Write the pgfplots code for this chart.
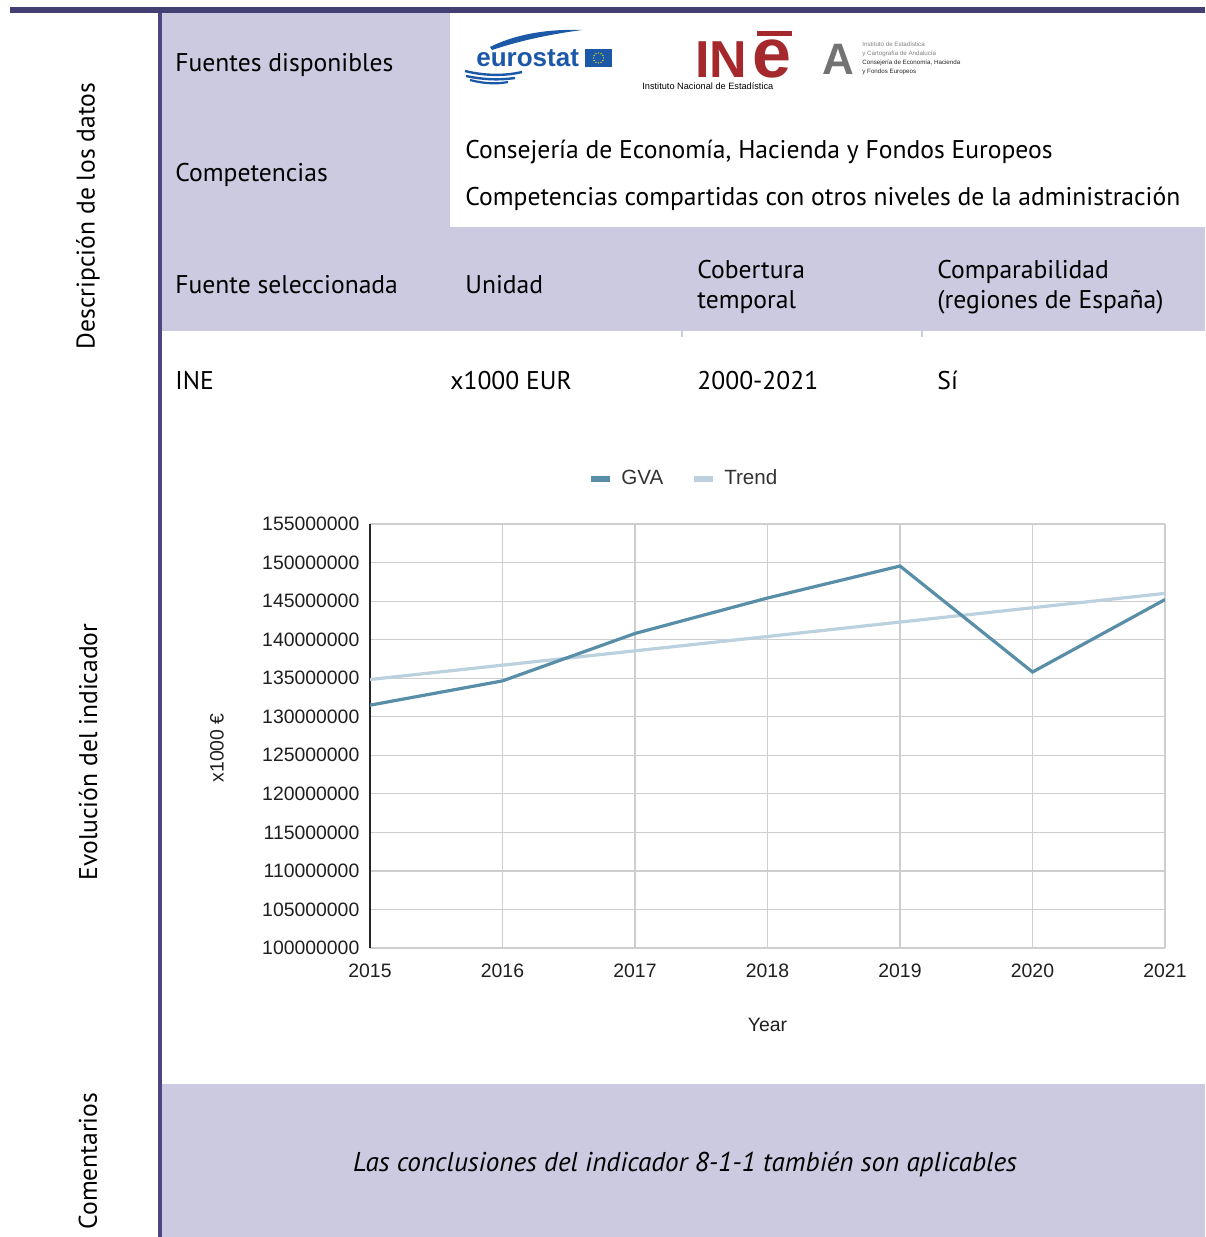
\documentclass[border=0pt]{standalone}
\usepackage{pgfplots}
\pgfplotsset{compat=1.18}
\usepackage{fontspec}
\setmainfont{PT Sans}
\newfontfamily\chartfont{Liberation Sans}
\definecolor{navy}{RGB}{66,64,114}
\definecolor{navyb}{RGB}{74,71,128}
\definecolor{lav}{RGB}{204,202,224}
\definecolor{gva}{RGB}{88,142,168}
\definecolor{trend}{RGB}{187,210,222}
\definecolor{gridc}{RGB}{206,206,206}
\definecolor{eublue}{RGB}{28,88,168}
\definecolor{inered}{RGB}{165,40,45}
\newcommand\tf{\fontsize{12.8}{15}\selectfont}
\newcommand\cf{\chartfont\fontsize{9.7}{11.5}\selectfont}
\newcommand\lf{\chartfont\fontsize{10.3}{12}\selectfont}
\pgfplotstableread{
year gva trend
2015 131500000 134830000
2016 134650000 136690000
2017 140800000 138550000
2018 145400000 140410000
2019 149550000 142280000
2020 135800000 144140000
2021 145200000 146000000
}\datatable
\begin{document}
\begin{tikzpicture}[x=0.5pt,y=-0.5pt]
\path[use as bounding box] (0,0) rectangle (1205,1237);
\fill[white] (0,0) rectangle (1205,1237);
% frame
\fill[navy] (10,7) rectangle (1205,13);
\fill[navyb] (158,13) rectangle (161.5,1237);
\fill[lav] (161.5,13) rectangle (450,227);
\fill[lav] (161.5,227) rectangle (1205,331);
\fill[lav] (161.5,1084) rectangle (1205,1237);
\fill[lav] (681,331) rectangle (683,337);
\fill[lav] (921,331) rectangle (923,337);
% side labels
\node[rotate=90, inner sep=0, font=\tf] at (88,216) {Descripción de los datos};
\node[rotate=90, inner sep=0, font=\tf] at (88,752) {Evolución del indicador};
\node[rotate=90, inner sep=0, font=\tf] at (88,1161) {Comentarios};
% table text
\begin{scope}[every node/.style={anchor=base west, inner sep=0, font=\tf}]
\node at (175,71) {Fuentes disponibles};
\node at (175,181) {Competencias};
\node at (465,158) {Consejería de Economía, Hacienda y Fondos Europeos};
\node at (465,205) {Competencias compartidas con otros niveles de la administración};
\node at (175,293) {Fuente seleccionada};
\node at (465,293) {Unidad};
\node at (697,278) {Cobertura};
\node at (697,308) {temporal};
\node at (937,278) {Comparabilidad};
\node at (937,308) {(regiones de España)};
\node at (175,389) {INE};
\node at (450,389) {x1000 EUR};
\node at (697,389) {2000-2021};
\node at (937,389) {Sí};
\end{scope}
\node[anchor=base, inner sep=0, font=\fontsize{13.6}{15}\selectfont\itshape] at (685,1171) {Las conclusiones del indicador 8-1-1 también son aplicables};
% eurostat logo
\fill[eublue] (490,47) .. controls (520,32) and (555,29) .. (582,30) .. controls (552,34) and (522,40) .. (492,50) -- cycle;
\draw[eublue, line width=1.2pt] (465,71) .. controls (485,76) and (505,76) .. (522,72);
\draw[eublue, line width=1.2pt] (466,76) .. controls (485,80) and (500,80) .. (515,78);
\draw[eublue, line width=1.1pt] (470,80) .. controls (485,84) and (498,84) .. (508,82);
\node[anchor=base west, inner sep=0, text=eublue, font=\chartfont\fontsize{13}{14}\selectfont\bfseries] at (476,66) {eurostat};
\fill[eublue] (585,49) rectangle (612,67);
\foreach \a in {0,30,...,330} \fill[yellow!90!orange] ({598.5+5*cos(\a)},{58+5*sin(\a)}) circle (0.7);
% INE logo
\node[anchor=base west, inner sep=0, text=inered, font=\chartfont\fontsize{26}{28}\selectfont\bfseries] at (695,77) {IN};
\node[anchor=base west, inner sep=0, text=inered, font=\chartfont\fontsize{35}{36}\selectfont\bfseries] at (752,77) {e};
\fill[inered] (757,31) rectangle (792,36);
\node[anchor=base west, inner sep=0, font=\chartfont\fontsize{4.6}{5}\selectfont] at (642,89) {Instituto Nacional de Estadística};
% Andalucia logo
\node[anchor=base west, inner sep=0, text=black!55, font=\chartfont\fontsize{22}{23}\selectfont\bfseries] at (822,74) {A};
\begin{scope}[every node/.style={anchor=base west, inner sep=0, font=\chartfont\fontsize{3.1}{4}\selectfont}]
\node[text=black!50] at (862,46) {Instituto de Estadística};
\node[text=black!50] at (862,55) {y Cartografía de Andalucía};
\node[text=black!85] at (862,64) {Consejería de Economía, Hacienda};
\node[text=black!85] at (862,73) {y Fondos Europeos};
\end{scope}
% chart
\begin{axis}[
  at={(185pt,-474pt)}, anchor=south west,
  scale only axis, width=397.5pt, height=212pt,
  xmin=2015, xmax=2021, ymin=100000000, ymax=155000000,
  xtick={2015,2016,2017,2018,2019,2020,2021},
  ytick={100000000,105000000,110000000,115000000,120000000,125000000,130000000,135000000,140000000,145000000,150000000,155000000},
  scaled y ticks=false,
  /pgf/number format/assume math mode=true,
  yticklabel style={/pgf/number format/fixed, /pgf/number format/precision=0, /pgf/number format/1000 sep={}, xshift=-1.8pt},
  xticklabel style={/pgf/number format/1000 sep={}, yshift=-4.5pt},
  tick label style={font=\cf, text=black!88},
  major tick length=0pt,
  grid=major, grid style={gridc, line width=0.6pt},
  axis lines*=left,
  x axis line style={gridc, line width=0.6pt},
  y axis line style={black!85, line width=0.9pt},
  xlabel={Year}, ylabel={x1000 €},
  label style={font=\cf, text=black!88},
  xlabel style={at={(axis description cs:0.5,-0.1816)}, anchor=center},
  ylabel style={at={(axis description cs:-0.1925,0.472)}, anchor=center},
  legend image code/.code={\path[draw=none, fill=none] (0pt,0pt) -- (13pt,0pt);\draw[#1, line width=3pt] (0pt,0pt) -- (9.5pt,0pt);},
  legend style={draw=none, fill=none, at={(0.396,1)}, anchor=center, yshift=22.5pt,
    font=\lf, text=black!80, /tikz/every even column/.append style={column sep=12pt}},
  legend columns=-1, legend cell align=left,
]
\addlegendimage{gva}\addlegendentry{GVA}
\addlegendimage{trend}\addlegendentry{Trend}
\addplot[trend, line width=1.6pt, forget plot] table[x=year, y=trend] {\datatable};
\addplot[gva, line width=1.6pt, forget plot] table[x=year, y=gva] {\datatable};
\end{axis}
\end{tikzpicture}
\end{document}
